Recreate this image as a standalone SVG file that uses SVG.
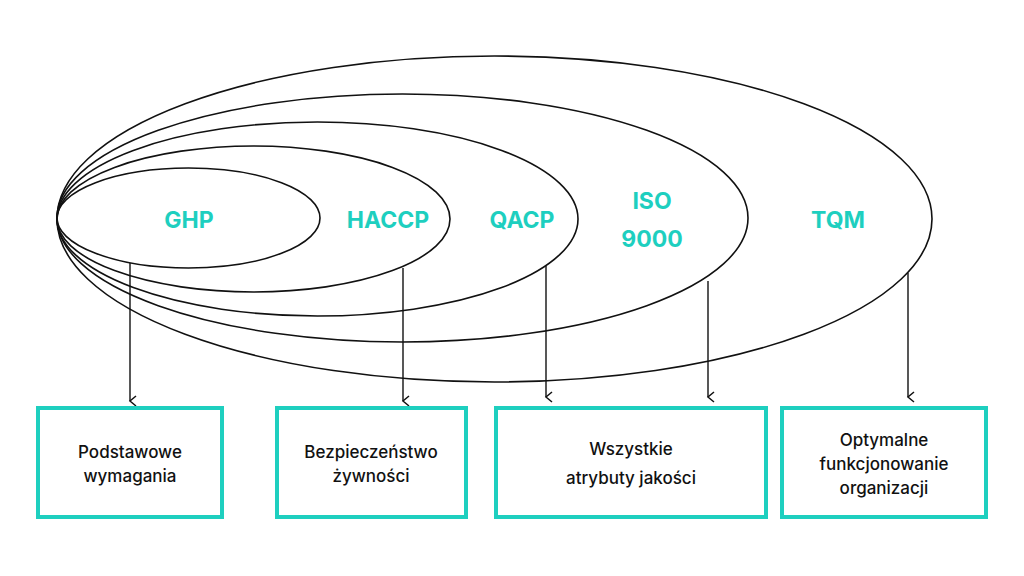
<svg xmlns="http://www.w3.org/2000/svg" width="1024" height="576" viewBox="0 0 1024 576">
<defs>
<marker id="ah" markerWidth="12" markerHeight="12" refX="6" refY="10" orient="auto" markerUnits="userSpaceOnUse"><path d="M1,4 L6,10 L11,4" fill="none" stroke="#111" stroke-width="1.5"/></marker>
<style>
.e{fill:none;stroke:#111;stroke-width:1.6}
.c{stroke:#111;stroke-width:1.4;marker-end:url(#ah)}
.b{fill:#fff;stroke:#1ecfbf;stroke-width:4}
.l{font-family:Inter,"Noto Sans",sans-serif;font-weight:700;font-size:23px;fill:#1ecfbf;text-anchor:middle}
.t{font-family:Inter,"Noto Sans",sans-serif;font-weight:500;font-size:17px;fill:#111;text-anchor:middle}
</style>
</defs>
<rect width="1024" height="576" fill="#fff"/>
<g id="TQM"><ellipse class="e" cx="494.5" cy="219" rx="437.5" ry="163"/><text class="l" x="838" y="228">TQM</text></g>
<g id="ISO"><ellipse class="e" cx="402.5" cy="218" rx="345.5" ry="124"/><text class="l" x="652" y="209">ISO</text><text class="l" x="652" y="247">9000</text></g>
<g id="QACP"><ellipse class="e" cx="317.5" cy="219" rx="260.5" ry="97"/><text class="l" x="522" y="228">QACP</text></g>
<g id="HACCP"><ellipse class="e" cx="253.5" cy="219" rx="196.5" ry="73"/><text class="l" x="388" y="228">HACCP</text></g>
<g id="GHP"><ellipse class="e" cx="188.5" cy="218" rx="131.5" ry="50"/><text class="l" x="189" y="228">GHP</text></g>
<g id="connectors">
<line class="c" x1="130" y1="263" x2="130" y2="401"/>
<line class="c" x1="403" y1="268" x2="403" y2="401"/>
<line class="c" x1="546" y1="266" x2="546" y2="397"/>
<line class="c" x1="708" y1="281" x2="708" y2="397"/>
<line class="c" x1="908" y1="273" x2="908" y2="397"/>
</g>
<g id="box1"><rect class="b" x="38" y="408" width="184" height="109"/><text class="t" x="130" y="458">Podstawowe</text><text class="t" x="130" y="482">wymagania</text></g>
<g id="box2"><rect class="b" x="277" y="408" width="189" height="109"/><text class="t" x="371" y="458">Bezpieczeństwo</text><text class="t" x="371" y="482">żywności</text></g>
<g id="box3"><rect class="b" x="496" y="408" width="270" height="109"/><text class="t" x="631" y="455">Wszystkie</text><text class="t" x="631" y="484">atrybuty jakości</text></g>
<g id="box4"><rect class="b" x="782" y="408" width="204" height="109"/><text class="t" x="884" y="446">Optymalne</text><text class="t" x="884" y="470">funkcjonowanie</text><text class="t" x="884" y="494">organizacji</text></g>
</svg>
